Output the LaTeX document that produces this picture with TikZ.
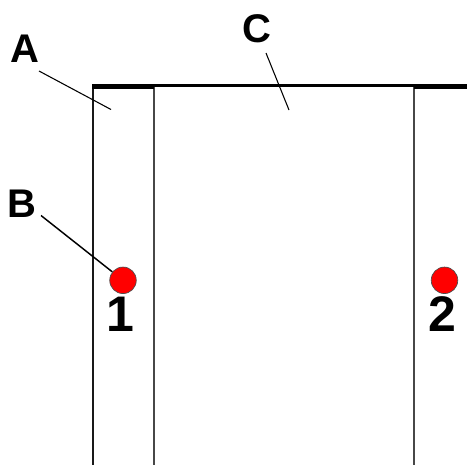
\documentclass[tikz,border=0pt]{standalone}
\usepackage{fontspec}
\setmainfont{Liberation Sans}
\tikzset{
  px/.style={x=0.75pt,y=-0.75pt},
  letterlabel/.style={font=\bfseries\fontsize{30}{30}\selectfont,inner sep=0pt,text=black},
  digitlabel/.style={font=\bfseries\fontsize{37.5}{37.5}\selectfont,inner sep=0pt,text=black},
  leader/.style={draw=black,line width=0.8pt},
  leaderheavy/.style={draw=black,line width=1.1pt},
  wall/.style={draw=black!72,line width=1.2pt},
  outerwall/.style={draw=black!90,line width=1.5pt},
  topline/.style={draw=black,line width=2.5pt},
  toplineheavy/.style={draw=black,line width=3.4pt},
  dot/.style={circle,draw=black!70,fill=red,line width=0.5pt,minimum size=19.9pt,inner sep=0pt}
}
\begin{document}
\begin{tikzpicture}[px]
\useasboundingbox (0,0) rectangle (467,465);
\fill[white] (0,0) rectangle (467,465);
\coordinate (tl) at (93.3,86);
\coordinate (bl) at (93.3,465);
\coordinate (m1t) at (154,86);
\coordinate (m1b) at (154,465);
\coordinate (m2t) at (414.2,86);
\coordinate (m2b) at (414.2,465);
\draw[outerwall] (tl) -- (bl);
\draw[wall] (m1t) -- (m1b);
\draw[wall] (m2t) -- (m2b);
\draw[topline] (92,85.7) -- (467,85.7);
\draw[toplineheavy] (92,86.4) -- (154,86.4);
\draw[toplineheavy] (414.2,86.4) -- (467,86.4);
\node[letterlabel] (A) at (24.5,48.5) {A};
\node[letterlabel] (B) at (21.5,203.5) {B};
\node[letterlabel] (C) at (257,29) {C};
\node[dot] (d1) at (123,280.3) {};
\node[dot] (d2) at (444.5,280.3) {};
\node[digitlabel] (n1) at (120,314) {1};
\node[digitlabel] (n2) at (442,314) {2};
\coordinate (Ae) at (111,109.5);
\coordinate (Ce) at (289,110);
\draw[leader] (39,71) -- (Ae);
\draw[leaderheavy] (41,215.5) -- (d1);
\draw[leader] (266,53) -- (Ce);
\end{tikzpicture}
\end{document}
